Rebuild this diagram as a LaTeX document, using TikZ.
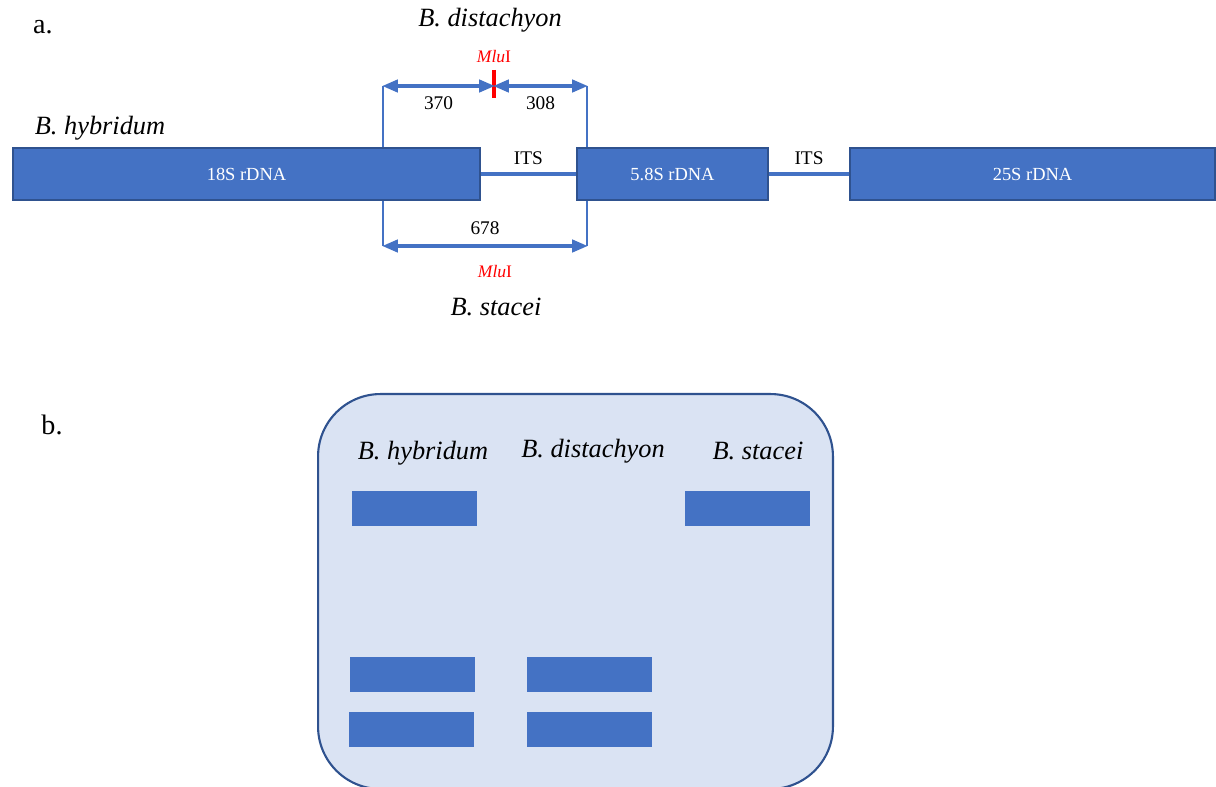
\documentclass[tikz,border=0pt]{standalone}
\usepackage{fontspec}
\setmainfont{Liberation Serif}
\usepackage{tikz}
\usetikzlibrary{arrows.meta,positioning}

\definecolor{geneblue}{HTML}{4472C4}
\definecolor{geneedge}{HTML}{2F528F}
\definecolor{gelfill}{HTML}{DAE3F3}

\begin{document}
\begin{tikzpicture}[x=0.02cm, y=-0.02cm,
    gene/.style={draw=geneedge, fill=geneblue, line width=1.1pt, minimum height=1.04cm, inner sep=0pt, text=white, font=\fontsize{10.5}{12}\selectfont},
    band/.style={fill=geneblue, minimum width=2.5cm, minimum height=0.7cm, inner sep=0pt},
    species/.style={font=\fontsize{15}{17}\selectfont\itshape},
    small/.style={text=black, font=\fontsize{11}{13}\selectfont},
    enzyme/.style={text=red, font=\fontsize{10}{12}\selectfont},
    guide/.style={geneblue, line width=0.6pt},
    span/.style={{Triangle[length=9pt,width=7pt]}-{Triangle[length=9pt,width=7pt]}, geneblue, line width=2pt, shorten <=-0.5pt, shorten >=-0.5pt},
    spacer/.style={geneblue, line width=2pt}
]
\useasboundingbox (0,0) rectangle (1216,787);

% Panel labels
\node[font=\fontsize{16}{18}\selectfont] (pa) at (43,27) {a.};
\node[font=\fontsize{16}{18}\selectfont] (pb) at (52,425) {b.};

% Fragment limits
\coordinate (ltop) at (383,86);
\coordinate (mtop) at (494,86);
\coordinate (rtop) at (587,86);
\coordinate (lbot) at (383,246);
\coordinate (rbot) at (587,246);
\draw[guide] (ltop) -- (lbot);
\draw[guide] (rtop) -- (rbot);

% rDNA region
\node[gene, minimum width=9.34cm] (s18) at (246.5,174) {18S rDNA};
\node[gene, minimum width=3.82cm] (s58) at (672.5,174) {5.8S rDNA};
\node[gene, minimum width=7.3cm] (s25) at (1032.5,174) {25S rDNA};
\draw[spacer] (s18.east) -- (s58.west) node[midway, above=1pt, small] (its1) {ITS};
\draw[spacer] (s58.east) -- (s25.west) node[midway, above=1pt, small] (its2) {ITS};

% B. distachyon cut
\draw[red, line width=2.2pt] (494,70) -- (494,98);
\draw[span] (ltop) -- (mtop) node[midway, below=2pt, small] (d370) {370};
\draw[span] (mtop) -- (rtop) node[midway, below=2pt, small] (d308) {308};
\node[enzyme] (cut1) at (494,57) {\textit{Mlu}I};
\node[species] (dist) at (490,20) {B. distachyon};
\node[species] (hyb) at (100,128) {B. hybridum};

% B. stacei, uncut
\draw[span] (lbot) -- (rbot) node[midway, above=2pt, small] (d678) {678};
\node[enzyme] (cut2) at (495,272) {\textit{Mlu}I};
\node[species] (sta) at (496,307) {B. stacei};

% Gel
\node[draw=geneedge, fill=gelfill, line width=1.2pt, rounded corners=1.25cm, minimum width=10.3cm, minimum height=7.9cm] (gel) at (575.5,591.5) {};
\node[species] (lane1) at (423,453) {B. hybridum};
\node[species] (lane2) at (593,451) {B. distachyon};
\node[species] (lane3) at (758,451) {B. stacei};
\node[band] (b1) at (414.5,508.5) {};
\node[band] (b2) at (747,508) {};
\node[band] (b3) at (412.5,674.5) {};
\node[band] (b4) at (589.5,674.5) {};
\node[band] (b5) at (411.5,729.5) {};
\node[band] (b6) at (589.5,729.5) {};

\end{tikzpicture}
\end{document}
